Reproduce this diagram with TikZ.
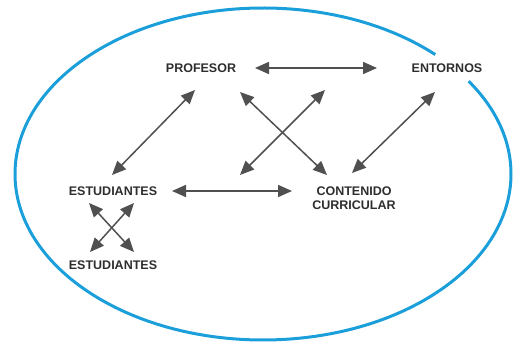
\documentclass[tikz,border=0pt]{standalone}
\usepackage{fontspec}
\setsansfont{Liberation Sans}
\usetikzlibrary{arrows.meta}
\definecolor{ringblue}{HTML}{1B9FDA}
\definecolor{arrgray}{HTML}{505050}
\definecolor{txtgray}{HTML}{2E2E2E}
\tikzset{
  lbl/.style={font=\sffamily\bfseries\fontsize{12.5}{13.5}\selectfont, text=txtgray, inner sep=0pt, align=center},
  arr/.style={draw=arrgray, line width=1.5pt, {Triangle[length=14pt,width=12pt]}-{Triangle[length=14pt,width=12pt]}},
  ring/.style={draw=ringblue, line width=3pt}
}
\begin{document}
\begin{tikzpicture}[x=1pt,y=1pt]
\useasboundingbox (0,0) rectangle (513,345);
% ellipse with a gap near ENTORNOS
\draw[ring] (263,171) ++(46:248 and 166) arc[start angle=46, end angle=394, x radius=248, y radius=166];
% nodes
\node[lbl] (prof) at (201,277) {PROFESOR};
\node[lbl] (ent) at (447,277) {ENTORNOS};
\node[lbl] (est1) at (113,154) {ESTUDIANTES};
\node[lbl] (cont) at (354,147) {CONTENIDO\\CURRICULAR};
\node[lbl] (est2) at (113,80) {ESTUDIANTES};
\coordinate (xa) at (325,255);
\coordinate (xb) at (240,170);
% connectors
\draw[arr] ([shift={(54,0)}]prof.center) -- ([shift={(-70,0)}]ent.center);
\draw[arr] ([shift={(-6,-22)}]prof.center) -- ([shift={(-1,16)}]est1.center);
\draw[arr] ([shift={(39,-24)}]prof.center) -- ([shift={(-27,23)}]cont.center);
\draw[arr] (xa) -- (xb);
\draw[arr] ([shift={(-12,-24)}]ent.center) -- ([shift={(-2,25)}]cont.center);
\draw[arr] ([shift={(59,0)}]est1.center) -- ([shift={(-62,7)}]cont.center);
\draw[arr] ([shift={(-24,-12)}]est1.center) -- ([shift={(21,13)}]est2.center);
\draw[arr] ([shift={(21,-12)}]est1.center) -- ([shift={(-23,13)}]est2.center);
\end{tikzpicture}
\end{document}
